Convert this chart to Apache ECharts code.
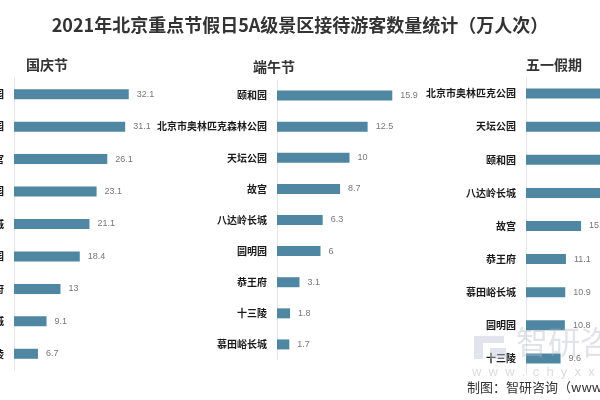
<!DOCTYPE html>
<html><head><meta charset="utf-8">
<script src="https://cdn.jsdelivr.net/npm/echarts@6/dist/echarts.min.js"></script>
<style>html,body{margin:0;padding:0;background:#fff}#c{width:600px;height:400px}</style>
</head><body><div id="c"></div>
<script>
var title = '2021年北京重点节假日5A级景区接待游客数量统计（万人次）';
var panelTitles = ['国庆节', '端午节', '五一假期'];
var nationalCats = ['颐和园','天坛公园','故宫','北京市奥林匹克公园','八达岭长城','圆明园','恭王府','慕田峪长城','十三陵'];
var nationalVals = [32.1, 31.1, 26.1, 23.1, 21.1, 18.4, 13, 9.1, 6.7];
var dragonCats = ['颐和园','北京市奥林匹克森林公园','天坛公园','故宫','八达岭长城','圆明园','恭王府','十三陵','慕田峪长城'];
var dragonVals = [15.9, 12.5, 10, 8.7, 6.3, 6, 3.1, 1.8, 1.7];
var mayCats = ['北京市奥林匹克公园','天坛公园','颐和园','八达岭长城','故宫','恭王府','慕田峪长城','圆明园','十三陵'];
var mayVals = [28.6, 24.3, 22.9, 21.4, 15.3, 11.1, 10.9, 10.8, 9.6];

var chart = echarts.init(document.getElementById('c'));
var barColor = '#4f87a2';
var grids = [
  {left: 14, top: 78, width: 143, height: 292, containLabel: false, outerBoundsMode: 'none'},
  {left: 277, top: 80, width: 145, height: 280, containLabel: false, outerBoundsMode: 'none'},
  {left: 526, top: 77, width: 144, height: 298, containLabel: false, outerBoundsMode: 'none'}
];
var maxes = [40, 20, 40];
var cats = [nationalCats, dragonCats, mayCats];
var vals = [nationalVals, dragonVals, mayVals];
var xAxes = [], yAxes = [], series = [];
for (var i = 0; i < 3; i++) {
  xAxes.push({gridIndex: i, type: 'value', min: 0, max: maxes[i], show: false});
  yAxes.push({gridIndex: i, type: 'category', data: cats[i], inverse: true,
    axisLine: {show: true, lineStyle: {color: '#e3e6ea', width: 1}},
    axisTick: {show: false},
    axisLabel: {color: '#1a1a1a', fontSize: 10, fontWeight: 'bold', margin: 10,
      fontFamily: 'Noto Sans CJK SC'}});
  series.push({type: 'bar', xAxisIndex: i, yAxisIndex: i, data: vals[i], barWidth: 10,
    itemStyle: {color: barColor},
    label: {show: true, position: 'right', distance: 8, color: '#777', fontSize: 9,
      fontFamily: 'Liberation Sans'}});
}
chart.setOption({
  animation: false,
  title: [
    {text: title, left: 'center', top: 11, textStyle: {fontSize: 18, fontWeight: 'bold', color: '#333', fontFamily: 'Noto Sans CJK SC'}},
    {text: panelTitles[0], left: 21, top: 53, textStyle: {fontSize: 14, fontWeight: 'bold', color: '#333', fontFamily: 'Noto Sans CJK SC'}},
    {text: panelTitles[1], left: 248, top: 55, textStyle: {fontSize: 14, fontWeight: 'bold', color: '#333', fontFamily: 'Noto Sans CJK SC'}},
    {text: panelTitles[2], left: 521, top: 53, textStyle: {fontSize: 14, fontWeight: 'bold', color: '#333', fontFamily: 'Noto Sans CJK SC'}}
  ],
  grid: grids,
  xAxis: xAxes,
  yAxis: yAxes,
  series: series,
  graphic: [
    {type: 'rect', z: 100, shape: {x: 474, y: 336, width: 30, height: 7}, style: {fill: 'rgba(190,196,214,0.45)'}},
    {type: 'rect', z: 100, shape: {x: 474, y: 343, width: 9, height: 16}, style: {fill: 'rgba(190,196,214,0.45)'}},
    {type: 'rect', z: 100, shape: {x: 490, y: 348, width: 16, height: 11}, style: {fill: 'rgba(190,196,214,0.45)'}},
    {type: 'text', z: 100, left: 516, top: 326, style: {text: '智研咨询', font: '32px "Noto Sans CJK SC"', fill: 'rgba(180,186,200,0.4)'}},
    {type: 'text', z: 100, left: 472, top: 366, style: {text: 'w  w  w  .  c  h  y  x  x  .  c  o  m', font: '13px "Liberation Sans"', fill: 'rgba(180,186,200,0.5)'}},
    {type: 'text', z: 101, left: 467, top: 381, style: {text: '制图：智研咨询（www.chyxx.com）', font: '13px "Noto Sans CJK SC"', fill: '#333'}}
  ]
});
</script></body></html>
